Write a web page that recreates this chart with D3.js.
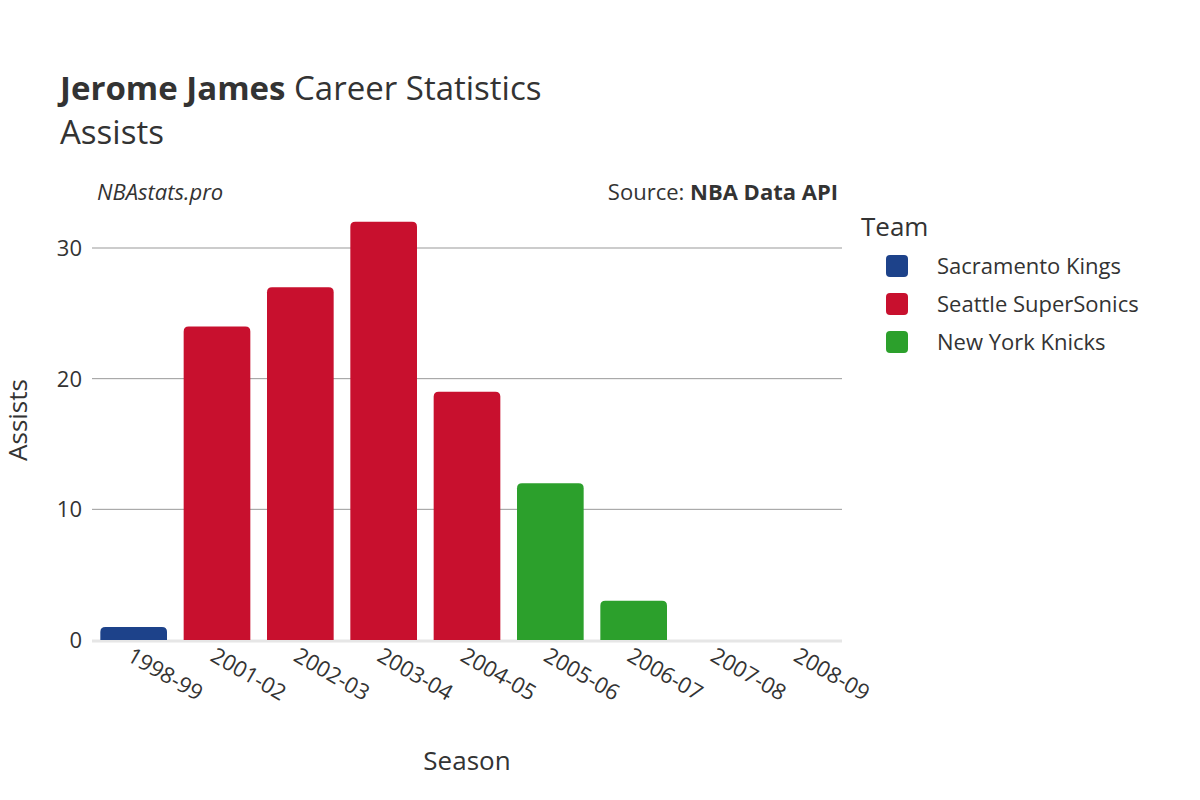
<!DOCTYPE html>
<html><head><meta charset="utf-8">
<script src="https://cdn.jsdelivr.net/npm/d3@7"></script>
<style>body{margin:0;background:#fff}text{font-family:"Open Sans","Noto Sans",sans-serif;fill:#333}</style>
</head><body><svg id="c" width="1200" height="800"></svg>
<script>
const seasons=["1998-99","2001-02","2002-03","2003-04","2004-05","2005-06","2006-07","2007-08","2008-09"];
const assists=[1,24,27,32,19,12,3,0,0];
const teams=["Sacramento Kings","Seattle SuperSonics","Seattle SuperSonics","Seattle SuperSonics","Seattle SuperSonics","New York Knicks","New York Knicks","New York Knicks","New York Knicks"];
const teamNames=["Sacramento Kings","Seattle SuperSonics","New York Knicks"];
const teamColors=["#1d428a","#c8102e","#2ca02c"];
const yTicks=[0,10,20,30];

const svg=d3.select("#c");
const x=d3.scaleBand().domain(seasons).range([92,842]).paddingInner(0.2).paddingOuter(0.1);
const y=d3.scaleLinear().domain([0,30]).range([640,248]);
const color=d3.scaleOrdinal().domain(teamNames).range(teamColors);

svg.append("g").selectAll("line").data(yTicks.filter(d=>d>0)).join("line")
 .attr("x1",92).attr("x2",842).attr("y1",d=>y(d)).attr("y2",d=>y(d)).attr("stroke","#999").attr("stroke-width",1);
svg.append("line").attr("x1",92).attr("x2",842).attr("y1",y(0)+1).attr("y2",y(0)+1).attr("stroke","#e6e6e6").attr("stroke-width",3);
svg.append("g").selectAll("text").data(yTicks).join("text")
 .attr("x",82).attr("y",d=>y(d)+8).attr("text-anchor","end").attr("font-size",22).text(d=>d);

const r=5;
svg.append("g").selectAll("path").data(seasons.map((s,i)=>({s,v:assists[i],t:teams[i]}))).join("path")
 .attr("fill",d=>color(d.t))
 .attr("d",d=>{const x0=x(d.s),w=x.bandwidth(),y0=y(d.v),b=y(0);const rr=Math.min(r,(b-y0)/2);
   return `M${x0},${b}V${y0+rr}Q${x0},${y0} ${x0+rr},${y0}H${x0+w-rr}Q${x0+w},${y0} ${x0+w},${y0+rr}V${b}Z`;});

svg.append("g").selectAll("text").data(seasons).join("text")
 .attr("transform",d=>`translate(${x(d)+x.bandwidth()/2-8},${660}) rotate(30)`)
 .attr("font-size",22).text(d=>d);

svg.append("text").attr("x",467).attr("y",770).attr("text-anchor","middle").attr("font-size",26).text("Season");
svg.append("text").attr("transform","translate(27,420) rotate(-90)").attr("text-anchor","middle").attr("font-size",26).text("Assists");

const t=svg.append("text").attr("x",60).attr("y",100).attr("font-size",33);
t.append("tspan").attr("font-weight","bold").text("Jerome James");
t.append("tspan").text(" Career Statistics");
svg.append("text").attr("x",60).attr("y",144).attr("font-size",33).text("Assists");
svg.append("text").attr("x",97).attr("y",200).attr("font-size",22).attr("font-style","italic").text("NBAstats.pro");
const s=svg.append("text").attr("x",838).attr("y",200).attr("font-size",22).attr("text-anchor","end");
s.append("tspan").text("Source: ");s.append("tspan").attr("font-weight","bold").text("NBA Data API");

svg.append("text").attr("x",861).attr("y",236).attr("font-size",26).text("Team");
const lg=svg.append("g").selectAll("g").data(teamNames).join("g").attr("transform",(d,i)=>`translate(886,${255+i*38})`);
lg.append("rect").attr("width",22).attr("height",22).attr("rx",4).attr("fill",d=>color(d));
lg.append("text").attr("x",51).attr("y",19).attr("font-size",22).text(d=>d);
</script></body></html>
